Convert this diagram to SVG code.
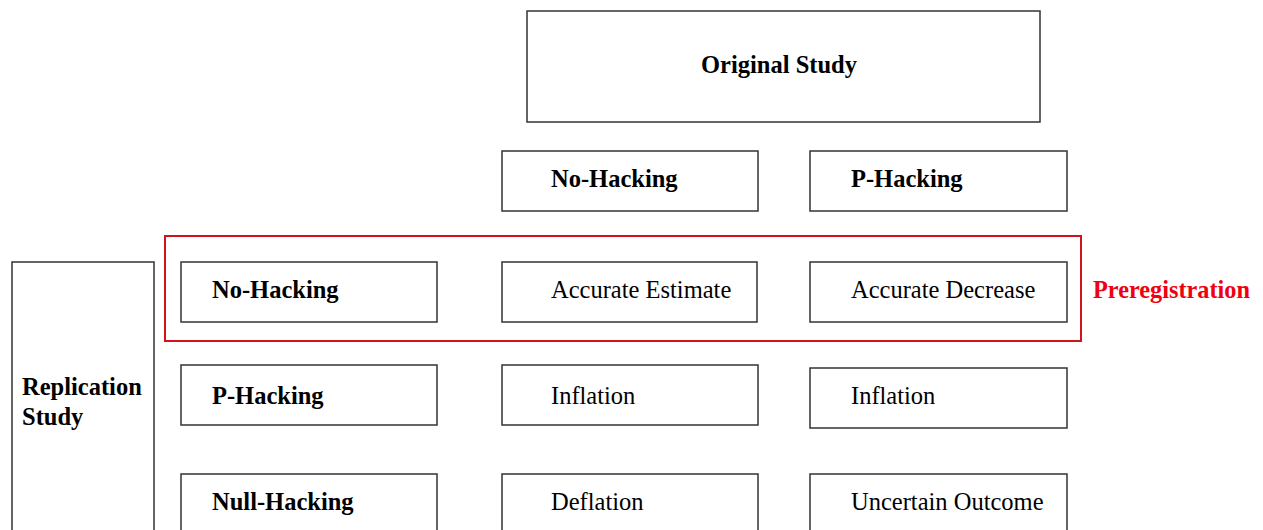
<svg xmlns="http://www.w3.org/2000/svg" width="1263" height="530" viewBox="0 0 1263 530">
<style>
.box{fill:#fff;stroke:#333;stroke-width:1.5}
.b{font-family:"Liberation Serif",serif;font-weight:bold;font-size:24.5px;fill:#000}
.r{font-family:"Liberation Serif",serif;font-size:24.5px;fill:#000}
.red{fill:none;stroke:#d0141b;stroke-width:2}
.rt{font-family:"Liberation Serif",serif;font-weight:bold;font-size:24.3px;fill:#f00010}
</style>
<rect width="1263" height="530" fill="#fff"/>
<g id="original"><rect class="box" x="527" y="11" width="513" height="111"/><text class="b" x="779" y="73" text-anchor="middle">Original Study</text></g>
<g id="orig-no"><rect class="box" x="502" y="151" width="256" height="60"/><text class="b" x="551" y="187">No-Hacking</text></g>
<g id="orig-p"><rect class="box" x="810" y="151" width="257" height="60"/><text class="b" x="851" y="187">P-Hacking</text></g>
<g id="replication"><rect class="box" x="12" y="262" width="142" height="290"/><text class="b" x="22" y="395">Replication</text><text class="b" x="22" y="425">Study</text></g>
<g id="rep-no"><rect class="box" x="181" y="262" width="256" height="60"/><text class="b" x="212" y="298">No-Hacking</text></g>
<g id="acc-est"><rect class="box" x="502" y="262" width="255" height="60"/><text class="r" x="551" y="298">Accurate Estimate</text></g>
<g id="acc-dec"><rect class="box" x="810" y="262" width="257" height="60"/><text class="r" x="851" y="298">Accurate Decrease</text></g>
<g id="rep-p"><rect class="box" x="181" y="365" width="256" height="60"/><text class="b" x="212" y="404">P-Hacking</text></g>
<g id="infl1"><rect class="box" x="502" y="365" width="256" height="60"/><text class="r" x="551" y="404">Inflation</text></g>
<g id="infl2"><rect class="box" x="810" y="368" width="257" height="60"/><text class="r" x="851" y="404">Inflation</text></g>
<g id="rep-null"><rect class="box" x="181" y="474" width="256" height="80"/><text class="b" x="212" y="510">Null-Hacking</text></g>
<g id="defl"><rect class="box" x="502" y="474" width="256" height="80"/><text class="r" x="551" y="510">Deflation</text></g>
<g id="uncertain"><rect class="box" x="810" y="474" width="257" height="80"/><text class="r" x="851" y="510">Uncertain Outcome</text></g>
<g id="prereg"><rect class="red" x="165" y="236" width="916" height="105"/><text class="rt" x="1093" y="298">Preregistration</text></g>
<g id="connectors"></g>
</svg>
